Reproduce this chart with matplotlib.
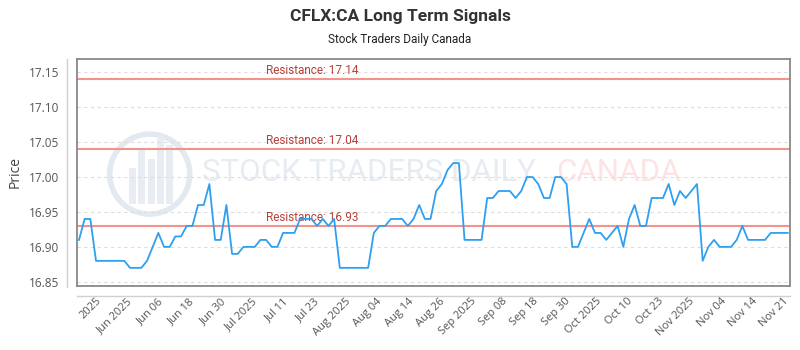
import numpy as np
import matplotlib
matplotlib.use("Agg")
import matplotlib.pyplot as plt
from matplotlib.lines import Line2D
from matplotlib.patches import Ellipse, Rectangle

prices = [16.91, 16.94, 16.94, 16.88, 16.88, 16.88, 16.88, 16.88, 16.88, 16.87,
          16.87, 16.87, 16.88, 16.90, 16.92, 16.90, 16.90, 16.915, 16.915, 16.93,
          16.93, 16.96, 16.96, 16.99, 16.91, 16.91,
          16.96, 16.89, 16.89, 16.90, 16.90, 16.90, 16.91, 16.91, 16.90, 16.90,
          16.92, 16.92, 16.92, 16.94, 16.94, 16.94, 16.93, 16.94, 16.93, 16.94,
          16.87, 16.87, 16.87, 16.87, 16.87, 16.87,
          16.92, 16.93, 16.93, 16.94, 16.94, 16.94, 16.93, 16.94, 16.96, 16.94,
          16.94, 16.98, 16.99, 17.01, 17.02, 17.02, 16.91, 16.91, 16.91, 16.91,
          16.97, 16.97, 16.98,
          16.98, 16.98, 16.97, 16.98, 17.00, 17.00, 16.99, 16.97, 16.97, 17.00,
          17.00, 16.99, 16.90, 16.90, 16.92, 16.94, 16.92, 16.92, 16.91, 16.92,
          16.93, 16.90, 16.94, 16.96, 16.93,
          16.93, 16.97, 16.97, 16.97, 16.99, 16.96, 16.98, 16.97, 16.98, 16.99,
          16.88, 16.90, 16.91, 16.90, 16.90, 16.90, 16.91, 16.93, 16.91, 16.91,
          16.91, 16.91, 16.92, 16.92, 16.92, 16.92]

tick_labels = ["2025", "Jun 2025", "Jun 06", "Jun 18", "Jun 30", "Jul 2025", "Jul 11",
               "Jul 23", "Aug 2025", "Aug 04", "Aug 14", "Aug 26", "Sep 2025", "Sep 08",
               "Sep 18", "Sep 30", "Oct 2025", "Oct 10", "Oct 23", "Nov 2025", "Nov 04",
               "Nov 14", "Nov 21"]

resistance = [17.14, 17.04, 16.93]
y_ticks = [16.85, 16.90, 16.95, 17.00, 17.05, 17.10, 17.15]

narrow = ["Roboto", "DejaVu Sans"]
plt.rcParams["font.family"] = ["Open Sans", "DejaVu Sans"]

fig = plt.figure(figsize=(8, 3.5), dpi=100)
ax = fig.add_axes([77 / 800, 1 - 286 / 350, 713 / 800, 227 / 350])

x = np.arange(len(prices))

# watermark logo
ax.add_patch(Ellipse((0.102, 0.493), 80 / 713, 80 / 227, transform=ax.transAxes, fill=False,
                     ec="#e3e9f1", lw=4, zorder=0))
for bx, bh in zip([0.078, 0.091, 0.104, 0.117, 0.130], [0.16, 0.24, 0.20, 0.30, 0.26]):
    ax.add_patch(Rectangle((bx - 0.005, 0.36), 0.010, bh, transform=ax.transAxes,
                           fc="#e8edf4", ec="none", zorder=0))
ax.text(0.175, 0.50, "STOCK TRADERS DAILY", transform=ax.transAxes, fontsize=22.5,
        family=narrow, color="#e7ecf2", va="center", ha="left", zorder=0)
ax.text(0.672, 0.50, "CANADA", transform=ax.transAxes, fontsize=22.5,
        family=narrow, color="#fde4e4", va="center", ha="left", zorder=0)

for r in resistance:
    ax.axhline(r, color="#f0948c", lw=1.5, zorder=2)
    ax.text(0.265, r + 0.003, f"Resistance: {r:.2f}", color="#b5413a", fontsize=8.5,
            transform=ax.get_yaxis_transform(), ha="left", va="bottom",
            family=["Roboto", "DejaVu Sans"], zorder=3)

ax.plot(x, prices, color="#2f9ff0", lw=1.3, zorder=4)

ax.set_xlim(-0.35, len(prices) - 1 + 0.4)
ax.set_ylim(16.844, 17.169)

ax.set_yticks(y_ticks)
ax.set_yticklabels([f"{v:.2f}" for v in y_ticks])
ticks = np.linspace(2.9, 124.2, len(tick_labels))
ax.set_xticks(ticks)
ax.set_xticklabels(tick_labels, rotation=45, ha="right", rotation_mode="anchor")

ax.tick_params(axis="y", length=0, pad=13, labelsize=8.5, labelcolor="#555555")
ax.tick_params(axis="x", length=0, pad=7, labelsize=8, labelcolor="#555555")
ax.grid(axis="y", color="#dddddd", ls=(0, (3, 3)), lw=0.8)
ax.set_axisbelow(True)

for s in ["left", "bottom", "right", "top"]:
    ax.spines[s].set_color("#888888")
    ax.spines[s].set_linewidth(1.3)

ax.set_ylabel("Price", fontsize=10, color="#444444")
ax.yaxis.set_label_coords((23 - 77) / 713, 0.5)

# offset light axis lines
fig.add_artist(Line2D([67 / 800, 67 / 800], [1 - 59 / 350, 1 - 287 / 350], color="#d0d0d0", lw=1))
fig.add_artist(Line2D([77 / 800, 790 / 800], [1 - 296 / 350, 1 - 296 / 350], color="#d0d0d0", lw=1))

fig.text(0.5, 1 - 16 / 350, "CFLX:CA Long Term Signals", ha="center", va="center",
         fontsize=12.5, fontweight="bold", color="#333333", family=narrow)
fig.text(0.5, 1 - 40 / 350, "Stock Traders Daily Canada", ha="center", va="center",
         fontsize=8.5, color="#222222", family=narrow)

fig.savefig("out.png", dpi=100)
